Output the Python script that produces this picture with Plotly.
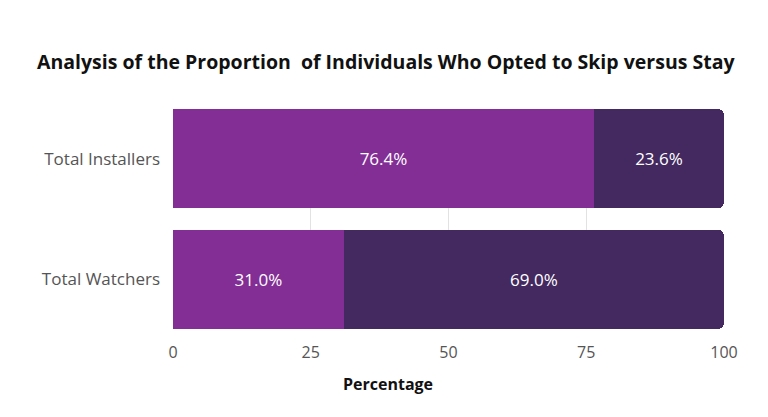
import plotly.graph_objects as go

# datos
categories = ["Total Watchers", "Total Installers"]
skip_pct = [31.0, 76.4]
stay_pct = [69.0, 23.6]
x_ticks = [0, 25, 50, 75, 100]

FONT = "Open Sans"
C_SKIP = "#832E95"
C_STAY = "#43295F"

# la pagina tiene 8px de margen, la figura es algo menor que la ventana
W, H = 760, 409
L, R, T, B = 165, 44, 101, 88
PW, PH = W - L - R, H - T - B

fig = go.Figure()

fig.add_trace(go.Bar(
	y = categories, x = skip_pct, orientation = "h", name = "Skip",
	marker = dict(color = C_SKIP, line = dict(width = 0)),
	text = [f"{v:.1f}%" for v in skip_pct], textposition = "inside",
	insidetextanchor = "middle",
	textfont = dict(color = "white", size = 17, family = FONT),
))
fig.add_trace(go.Bar(
	y = categories, x = stay_pct, orientation = "h", name = "Stay",
	marker = dict(color = C_STAY, line = dict(width = 0)),
	text = [f"{v:.1f}%" for v in stay_pct], textposition = "inside",
	insidetextanchor = "middle",
	textfont = dict(color = "white", size = 17, family = FONT),
))

fig.update_layout(
	width = W, height = H,
	barmode = "stack", bargap = 0.18, barcornerradius = 6,
	showlegend = False,
	plot_bgcolor = "white", paper_bgcolor = "white",
	margin = dict(l = L, r = R, t = T, b = B),
	font = dict(family = FONT, color = "#555"),
	title = dict(
		text = "<b>Analysis of the Proportion  of Individuals Who Opted to Skip versus Stay</b>",
		x = 29 / W, xanchor = "left", y = 1 - 54 / H, yanchor = "middle",
		font = dict(size = 19.5, color = "#111", family = FONT),
	),
	uniformtext = dict(minsize = 10, mode = "show"),
)

fig.update_xaxes(
	range = [0, 100], tickvals = x_ticks, showgrid = True, gridcolor = "#e2e2e2",
	zeroline = False, showline = False, ticks = "", ticklabelstandoff = 12,
	tickfont = dict(size = 16, color = "#555"),
)
fig.update_yaxes(
	range = [-0.41, 1.41], showgrid = False, showline = False, ticks = "",
	ticklabelstandoff = 12, tickfont = dict(size = 17, color = "#555"),
)

# titulo del eje x, centrado en la figura
fig.add_annotation(
	text = "<b>Percentage</b>", xref = "paper", yref = "paper",
	x = (380 - L) / PW, y = -(376 - (T + PH)) / PH, xanchor = "center", yanchor = "middle",
	showarrow = False, font = dict(size = 16, color = "#111", family = FONT),
)

fig.write_html("out.html")
